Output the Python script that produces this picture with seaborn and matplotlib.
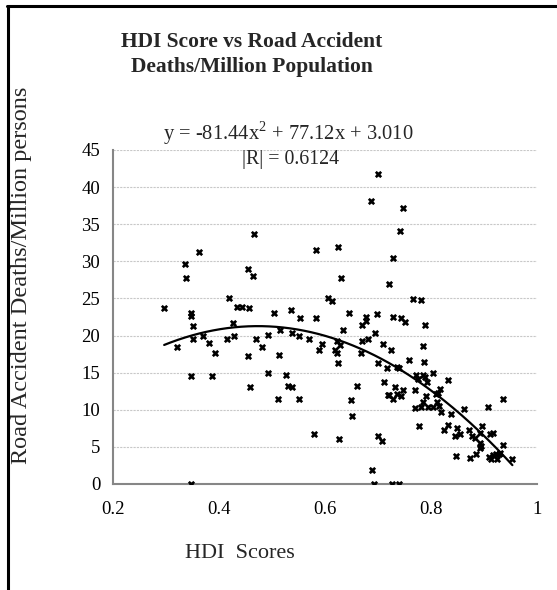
import numpy as np
import pandas as pd
import matplotlib
matplotlib.use("Agg")
import matplotlib.pyplot as plt
from matplotlib.lines import Line2D
import seaborn as sns

hdi = [0.297, 0.322, 0.336, 0.339, 0.347, 0.347, 0.352, 0.352, 0.347, 0.347,
       0.363, 0.371, 0.381, 0.392, 0.387, 0.415, 0.427, 0.429, 0.419, 0.434,
       0.443, 0.454, 0.464, 0.457, 0.455, 0.459, 0.466, 0.470, 0.482, 0.492,
       0.493, 0.504, 0.513, 0.515, 0.511, 0.526, 0.531, 0.537, 0.535, 0.537,
       0.551, 0.553, 0.551, 0.570, 0.580, 0.583, 0.583, 0.589, 0.595, 0.606,
       0.614, 0.619, 0.622, 0.623, 0.628, 0.625, 0.625, 0.627, 0.631, 0.634,
       0.646, 0.649, 0.651, 0.661, 0.667, 0.670, 0.670, 0.677, 0.678, 0.681,
       0.686, 0.688, 0.693, 0.694, 0.698, 0.699, 0.699, 0.700, 0.708, 0.710,
       0.711, 0.716, 0.718, 0.720, 0.721, 0.725, 0.726, 0.728, 0.728, 0.728,
       0.732, 0.735, 0.735, 0.740, 0.740, 0.742, 0.743, 0.744, 0.746, 0.747,
       0.750, 0.759, 0.766, 0.769, 0.769, 0.772, 0.776, 0.777, 0.780, 0.780,
       0.784, 0.785, 0.785, 0.787, 0.788, 0.789, 0.791, 0.792, 0.794, 0.804,
       0.804, 0.810, 0.811, 0.813, 0.815, 0.816, 0.818, 0.825, 0.831, 0.832,
       0.837, 0.845, 0.847, 0.849, 0.854, 0.862, 0.872, 0.874, 0.876, 0.882,
       0.885, 0.892, 0.892, 0.893, 0.892, 0.896, 0.907, 0.909, 0.910, 0.913,
       0.917, 0.917, 0.922, 0.924, 0.927, 0.930, 0.936, 0.936, 0.953]
deaths = [23.7, 18.5, 29.6, 27.7, 23.1, 22.6, 21.3, 19.5, 14.6, 0.0,
          31.2, 19.9, 19.0, 17.6, 14.6, 19.5, 21.7, 19.9, 25.1, 23.9,
          23.9, 28.9, 28.0, 23.7, 17.2, 13.0, 33.7, 19.5, 18.4, 20.1,
          15.0, 23.1, 17.4, 20.8, 11.5, 14.7, 13.2, 13.1, 23.4, 20.4,
          19.9, 22.3, 11.4, 19.5, 6.7, 22.4, 31.5, 18.0, 18.8, 25.0,
          24.7, 18.1, 19.2, 17.7, 18.7, 16.3, 31.9, 6.0, 27.8, 20.8,
          23.0, 11.3, 9.1, 13.2, 17.7, 19.2, 21.4, 22.0, 22.5, 19.5,
          38.1, 1.9, 0.0, 20.4, 22.9, 41.7, 6.4, 16.3, 5.8, 18.8,
          13.7, 15.6, 12.0, 27.0, 12.0, 18.1, 0.0, 30.4, 22.5, 11.5,
          13.0, 15.8, 12.1, 15.6, 0.0, 34.1, 11.8, 22.3, 37.2, 12.7,
          21.8, 16.7, 24.9, 12.7, 10.2, 14.7, 14.1, 7.8, 24.8, 10.4,
          18.6, 14.7, 11.1, 16.5, 21.4, 14.4, 11.8, 13.8, 10.4, 15.0,
          10.4, 12.1, 11.0, 12.3, 10.5, 12.8, 9.7, 7.3, 8.0, 14.0,
          9.4, 6.5, 3.8, 7.6, 6.8, 10.1, 7.3, 3.5, 6.5, 6.2,
          4.1, 6.9, 5.5, 5.1, 4.8, 7.8, 10.4, 3.7, 6.7, 3.4,
          3.9, 6.9, 4.1, 3.4, 4.0, 4.2, 11.4, 5.2, 3.4]

# Trendline coefficients as printed on the chart
coef = [-81.44, 77.12, 3.010]
x_ticks = [0.2, 0.4, 0.6, 0.8, 1.0]
x_tick_labels = ["0.2", "0.4", "0.6", "0.8", "1"]
y_ticks = [0, 5, 10, 15, 20, 25, 30, 35, 40, 45]

df = pd.DataFrame({"HDI": hdi, "Deaths": deaths})

sns.set_style("white")
plt.rcParams["font.family"] = ["Liberation Serif", "DejaVu Serif"]
plt.rcParams["mathtext.fontset"] = "custom"
plt.rcParams["mathtext.rm"] = "Liberation Serif"

fig = plt.figure(figsize=(5.57, 5.90), dpi=100)
ax = fig.add_axes([0.2023, 0.1797, 0.9647 - 0.2023, 0.7458 - 0.1797])

sns.scatterplot(data=df, x="HDI", y="Deaths", ax=ax, marker="x", color="black",
                s=15, linewidth=1.9, zorder=3)

xs = np.linspace(min(hdi), max(hdi), 200)
ys = np.polyval(coef, xs)
sns.lineplot(x=xs, y=ys, ax=ax, color="black", linewidth=1.6, zorder=4)

ax.set_xlim(0.2, 1.0)
ax.set_ylim(0, 45)
ax.set_xticks(x_ticks)
ax.set_xticklabels(x_tick_labels)
ax.set_yticks(y_ticks)
ax.yaxis.grid(True, color="#c8c8c8", linestyle=(0, (2, 1)), linewidth=0.8)
ax.set_axisbelow(True)
for side in ["top", "right"]:
    ax.spines[side].set_visible(False)
for side in ["left", "bottom"]:
    ax.spines[side].set_color("#868686")
    ax.spines[side].set_linewidth(1.5)
ax.tick_params(axis="both", which="major", direction="out", length=5, width=1.2,
               color="#868686", labelsize=13.5, pad=4, labelcolor="black")
ax.tick_params(axis="x", pad=7)
ax.set_xlabel("")
ax.set_ylabel("")

fig.text(252 / 557, 1 - 42 / 590, "HDI Score vs Road Accident", ha="center", va="center",
         fontsize=15.5, fontweight="bold")
fig.text(252 / 557, 1 - 67 / 590, "Deaths/Million Population", ha="center", va="center",
         fontsize=15.5, fontweight="bold")
fig.text(288 / 557, 1 - 133 / 590, r"y = -81.44x$^{2}$ + 77.12x + 3.010", ha="center",
         va="center", fontsize=14.8)
fig.text(290 / 557, 1 - 160 / 590, "|R| = 0.6124", ha="center", va="center", fontsize=14.3)
fig.text(240 / 557, 1 - 553 / 590, "HDI  Scores", ha="center", va="center", fontsize=16)
fig.text(22 / 557, 1 - 275 / 590, "Road Accident Deaths/Million persons", ha="center",
         va="center", rotation=90, fontsize=17.5)

fig.add_artist(Line2D([8 / 557, 8 / 557], [0, 1 - 6 / 590], transform=fig.transFigure,
                      color="black", linewidth=2.2))
fig.add_artist(Line2D([7 / 557, 1], [1 - 6 / 590, 1 - 6 / 590], transform=fig.transFigure,
                      color="black", linewidth=2.2))

fig.savefig("out.png", dpi=100, facecolor="white")
